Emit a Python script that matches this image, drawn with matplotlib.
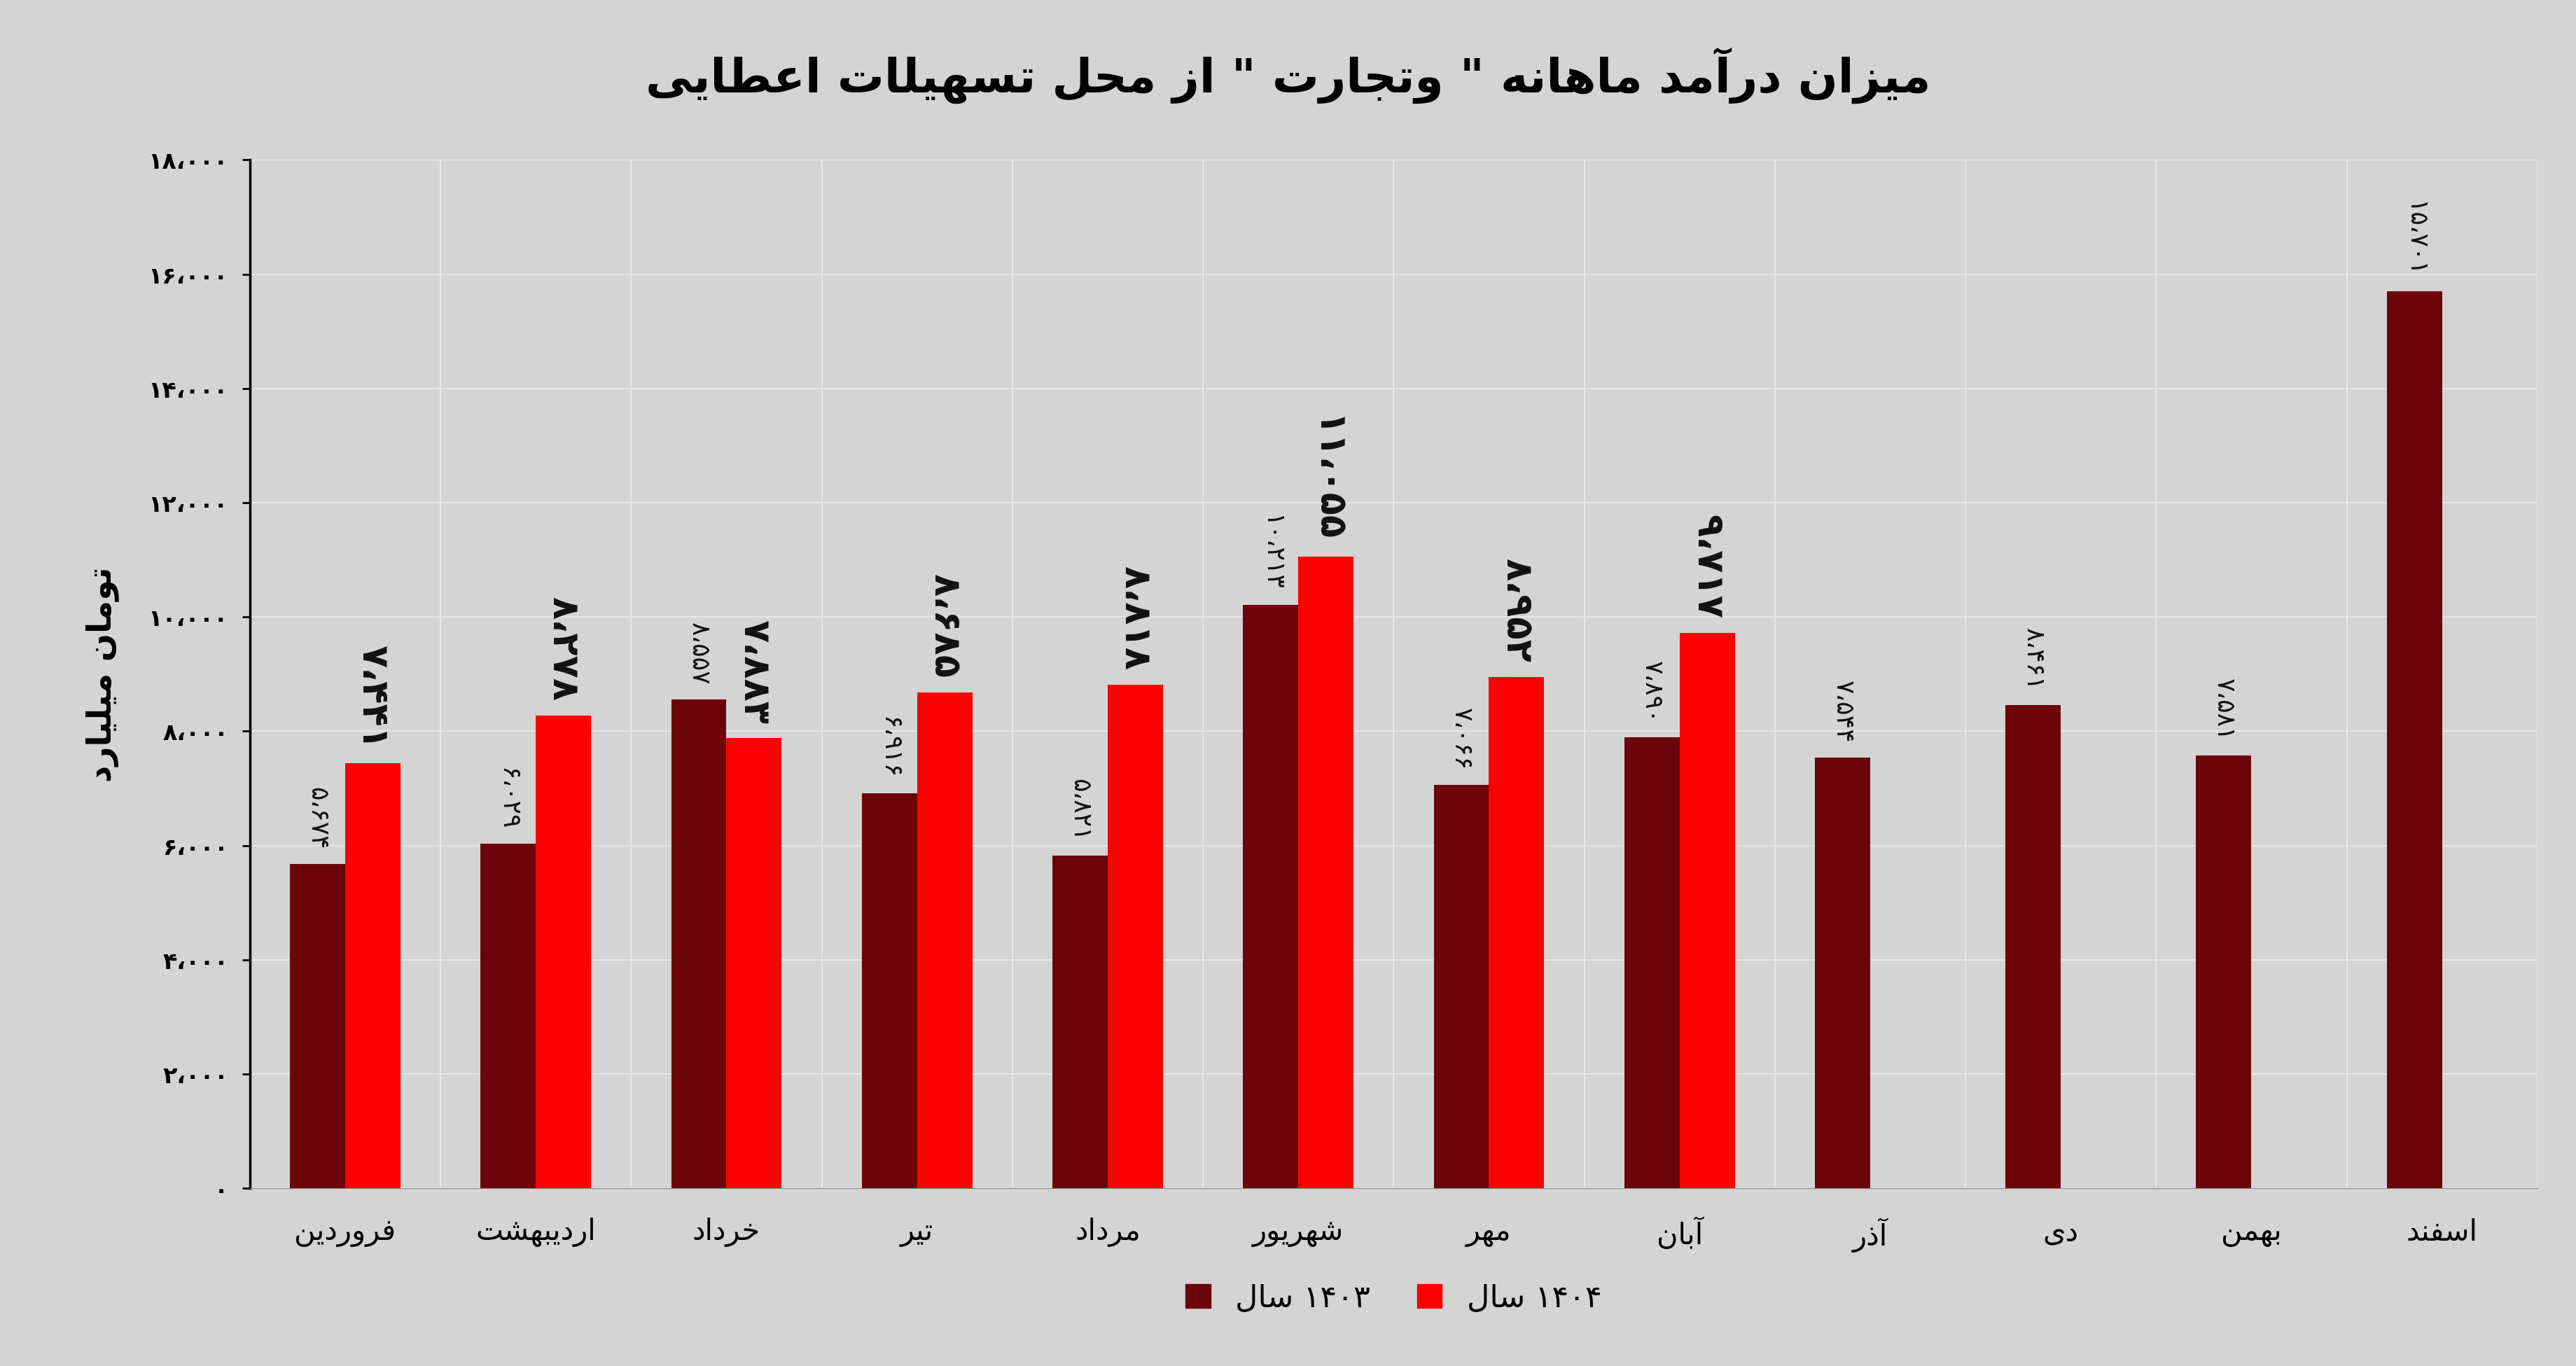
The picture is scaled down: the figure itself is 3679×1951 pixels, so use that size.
import matplotlib
matplotlib.use("Agg")
import matplotlib.pyplot as plt
import numpy as np

months = ["فروردین", "اردیبهشت", "خرداد", "تیر", "مرداد", "شهریور", "مهر", "آبان", "آذر", "دی", "بهمن", "اسفند"]
v1403 = [5674, 6029, 8557, 6916, 5821, 10213, 7066, 7890, 7544, 8461, 7581, 15701]
v1404 = [7441, 8278, 7883, 8685, 8818, 11055, 8952, 9717]
yticks = [0, 2000, 4000, 6000, 8000, 10000, 12000, 14000, 16000, 18000]

FORMS = {
    'ا': (0xFE8D, 0xFE8E, None, None), 'آ': (0xFE81, 0xFE82, None, None),
    'ب': (0xFE8F, 0xFE90, 0xFE91, 0xFE92), 'ت': (0xFE95, 0xFE96, 0xFE97, 0xFE98),
    'ج': (0xFE9D, 0xFE9E, 0xFE9F, 0xFEA0), 'ح': (0xFEA1, 0xFEA2, 0xFEA3, 0xFEA4),
    'خ': (0xFEA5, 0xFEA6, 0xFEA7, 0xFEA8), 'د': (0xFEA9, 0xFEAA, None, None),
    'ذ': (0xFEAB, 0xFEAC, None, None), 'ر': (0xFEAD, 0xFEAE, None, None),
    'ز': (0xFEAF, 0xFEB0, None, None), 'س': (0xFEB1, 0xFEB2, 0xFEB3, 0xFEB4),
    'ش': (0xFEB5, 0xFEB6, 0xFEB7, 0xFEB8), 'ط': (0xFEC1, 0xFEC2, 0xFEC3, 0xFEC4),
    'ع': (0xFEC9, 0xFECA, 0xFECB, 0xFECC), 'ف': (0xFED1, 0xFED2, 0xFED3, 0xFED4),
    'ل': (0xFEDD, 0xFEDE, 0xFEDF, 0xFEE0), 'م': (0xFEE1, 0xFEE2, 0xFEE3, 0xFEE4),
    'ن': (0xFEE5, 0xFEE6, 0xFEE7, 0xFEE8), 'ه': (0xFEE9, 0xFEEA, 0xFEEB, 0xFEEC),
    'و': (0xFEED, 0xFEEE, None, None), 'ی': (0xFBFC, 0xFBFD, 0xFBFE, 0xFBFF),
    'پ': (0xFB56, 0xFB57, 0xFB58, 0xFB59),
}

def shape(s):
    out = []
    for i, c in enumerate(s):
        if c not in FORMS:
            out.append(c); continue
        f = FORMS[c]
        p = s[i-1] if i > 0 else ''
        n = s[i+1] if i+1 < len(s) else ''
        jp = p in FORMS and FORMS[p][2] is not None
        jn = f[2] is not None and n in FORMS
        if jp and jn: cp = f[3]
        elif jp: cp = f[1]
        elif jn: cp = f[2]
        else: cp = f[0]
        out.append(chr(cp))
    return ''.join(out)[::-1]

PD = str.maketrans("0123456789", "۰۱۲۳۴۵۶۷۸۹")
def fa(n):
    return f"{n:,}".replace(",", "،").translate(PD)

plt.rcParams['font.family'] = ['DejaVu Sans']
bg = '#d4d4d4'
fig = plt.figure(figsize=(36.79, 19.51), dpi=100, facecolor=bg)
ax = fig.add_axes([0.097, 0.130, 0.888, 0.753], facecolor=bg)

x = np.arange(len(months))
w = 0.29
c1, c2 = '#6b0509', '#ff0000'
b1 = ax.bar(x - w/2, v1403, w, color=c1, zorder=3)
b2 = ax.bar(x[:len(v1404)] + w/2, v1404, w, color=c2, zorder=3)
for xi, v in zip(x, v1403):
    ax.text(xi - w/2, v + 250, fa(v), rotation=-90, ha='center', va='bottom',
            fontsize=26, color='#111111', zorder=4)
for xi, v in zip(x, v1404):
    ax.text(xi + w/2, v + 250, fa(v), rotation=-90, ha='center', va='bottom',
            fontsize=38, fontweight='bold', color='#111111', zorder=4)

ax.set_xlim(-0.5, len(months) - 0.5)
ax.set_ylim(0, 18000)
ax.set_yticks(yticks)
ax.set_yticklabels([fa(t) for t in yticks], fontsize=24, fontweight='bold')
ax.set_xticks(x)
ax.set_xticklabels([shape(m) for m in months], fontsize=30)
ax.set_xticks(np.arange(len(months) + 1) - 0.5, minor=True)
ax.grid(axis='y', color='#e8e8e8', lw=1.5, zorder=0)
ax.grid(axis='x', which='minor', color='#e8e8e8', lw=1.5, zorder=0)
ax.tick_params(axis='x', which='both', length=0, pad=30)
ax.tick_params(axis='y', length=8, width=2, pad=14)
for s in ['top', 'right']:
    ax.spines[s].set_visible(False)
ax.spines['bottom'].set_color('#888888')
ax.spines['left'].set_linewidth(2.5)
ax.set_ylabel(shape("میلیارد") + " " + shape("تومان"), fontsize=34, fontweight='bold', labelpad=30)

title_words = ["میزان", "درآمد", "ماهانه", '"', "وتجارت", '"', "از", "محل", "تسهیلات", "اعطایی"]
title = " ".join(shape(wd) for wd in title_words[::-1])
fig.text(0.5, 0.945, title, ha='center', va='center', fontsize=48, fontweight='bold')

h1 = plt.Rectangle((0, 0), 1, 1, color=c1)
h2 = plt.Rectangle((0, 0), 1, 1, color=c2)
ax.legend([h1, h2], [shape("سال") + " ۱۴۰۳", shape("سال") + " ۱۴۰۴"], loc='upper center',
          bbox_to_anchor=(0.5, -0.065), ncol=2, frameon=False, fontsize=32,
          handlelength=0.8, handleheight=0.8, columnspacing=1.5)

fig.savefig("out.png", dpi=100, facecolor=bg)
